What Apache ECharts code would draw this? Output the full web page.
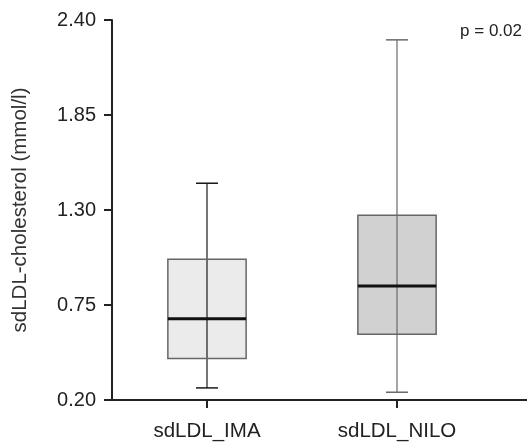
<!DOCTYPE html>
<html>
<head>
<meta charset="utf-8">
<script src="https://cdn.jsdelivr.net/npm/echarts@6/dist/echarts.min.js"></script>
<style>html,body{margin:0;padding:0;background:#fff;}#c{width:527px;height:444px;}</style>
</head>
<body>
<div id="c"></div>
<script>
const categories = ['sdLDL_IMA', 'sdLDL_NILO'];
const minVals = [0.27, 0.245];
const q1Vals = [0.44, 0.58];
const medianVals = [0.67, 0.86];
const q3Vals = [1.015, 1.27];
const maxVals = [1.455, 2.285];
const yTicks = [0.20, 0.75, 1.30, 1.85, 2.40];
const pText = 'p = 0.02';

const fills = ['#ebebeb', '#d0d1d0'];
const whiskerColors = ['#1a1a1a', '#6a6a6a'];

const data = categories.map((c, i) => [i, minVals[i], q1Vals[i], medianVals[i], q3Vals[i], maxVals[i]]);

const chart = echarts.init(document.getElementById('c'), null, {renderer: 'canvas'});
const FONT = 'Liberation Sans, Arial, sans-serif';
const TXT = '#222';

chart.setOption({
  animation: false,
  title: {
    text: pText, right: 0, top: 18,
    textStyle: {fontFamily: FONT, fontSize: 17, fontWeight: 'normal', color: TXT}
  },
  grid: [
    {left: 112, right: 35, top: 20, bottom: 44, containLabel: false},
    {left: 112, right: 0, top: 20, bottom: 44, containLabel: false}
  ],
  xAxis: [
    {
      type: 'category', gridIndex: 0, data: categories, boundaryGap: true,
      axisLine: {show: false},
      axisTick: {show: true, alignWithLabel: true, length: 8, lineStyle: {color: '#222', width: 2}},
      axisLabel: {margin: 21, fontFamily: FONT, fontSize: 20.5, color: TXT}
    },
    {
      type: 'value', gridIndex: 1, min: 0, max: 1,
      axisLine: {show: true, onZero: false, lineStyle: {color: '#222', width: 2}},
      axisTick: {show: false}, axisLabel: {show: false}, splitLine: {show: false}
    }
  ],
  yAxis: [
    {
      type: 'value', gridIndex: 0, min: yTicks[0], max: yTicks[yTicks.length - 1],
      interval: yTicks[1] - yTicks[0],
      name: 'sdLDL-cholesterol (mmol/l)', nameLocation: 'middle', nameGap: 81,
      nameTextStyle: {fontFamily: FONT, fontSize: 20.5, color: '#333'},
      axisLine: {show: true, lineStyle: {color: '#222', width: 2}},
      axisTick: {show: true, length: 8, lineStyle: {color: '#222', width: 2}},
      axisLabel: {margin: 16, fontFamily: FONT, fontSize: 20, color: TXT,
        formatter: v => Number(v).toFixed(2)},
      splitLine: {show: false}
    },
    {
      type: 'value', gridIndex: 1, min: 0, max: 1, show: false
    }
  ],
  series: [{
    type: 'custom',
    xAxisIndex: 0, yAxisIndex: 0,
    data: data,
    renderItem: function (params, api) {
      const i = api.value(0);
      const band = api.size([1, 0])[0];
      const pMin = api.coord([i, api.value(1)]);
      const pQ1 = api.coord([i, api.value(2)]);
      const pMed = api.coord([i, api.value(3)]);
      const pQ3 = api.coord([i, api.value(4)]);
      const pMax = api.coord([i, api.value(5)]);
      const cx = pMed[0];
      const hb = band * 0.206;
      const hc = band * 0.058;
      const wc = whiskerColors[i];
      return {
        type: 'group',
        children: [
          {type: 'rect', shape: {x: cx - hb, y: pQ3[1], width: 2 * hb, height: pQ1[1] - pQ3[1]},
            style: {fill: fills[i], stroke: null}},
          {type: 'line', shape: {x1: cx, y1: pMin[1], x2: cx, y2: pMax[1]},
            style: {stroke: wc, lineWidth: 1.2}},
          {type: 'line', shape: {x1: cx - hc, y1: pMax[1], x2: cx + hc, y2: pMax[1]},
            style: {stroke: wc, lineWidth: 1.5}},
          {type: 'line', shape: {x1: cx - hc, y1: pMin[1], x2: cx + hc, y2: pMin[1]},
            style: {stroke: wc, lineWidth: 1.5}},
          {type: 'rect', shape: {x: cx - hb, y: pQ3[1], width: 2 * hb, height: pQ1[1] - pQ3[1]},
            style: {fill: null, stroke: '#666', lineWidth: 1.5}},
          {type: 'line', shape: {x1: cx - hb, y1: pMed[1], x2: cx + hb, y2: pMed[1]},
            style: {stroke: '#111', lineWidth: 3}}
        ]
      };
    }
  }]
});
</script>
</body>
</html>
